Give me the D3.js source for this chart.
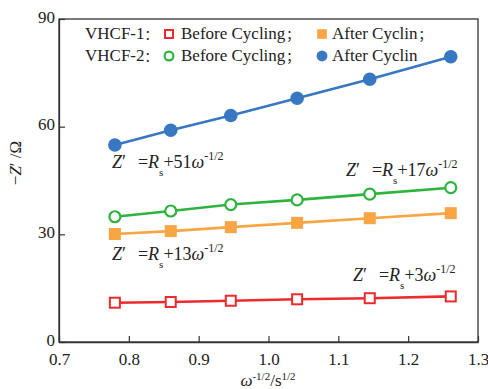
<!DOCTYPE html>
<html>
<head>
<meta charset="utf-8">
<script src="https://cdn.jsdelivr.net/npm/d3@7"></script>
<style>
  html, body { margin: 0; padding: 0; background: #fff; }
</style>
</head>
<body>
<svg id="chart" width="488" height="389" style="font-family: 'Liberation Serif', 'Times New Roman', serif;"></svg>
<script>
// Warburg coefficient plots: real impedance vs ω^-1/2
const omegaInvSqrt = [0.780, 0.860, 0.946, 1.041, 1.145, 1.261];
const vhcf1Before = [10.95, 11.15, 11.5, 11.9, 12.2, 12.7];
const vhcf1After  = [30.1, 30.9, 32.0, 33.2, 34.5, 35.9];
const vhcf2Before = [34.9, 36.5, 38.3, 39.6, 41.2, 43.0];
const vhcf2After  = [54.9, 59.0, 63.1, 67.9, 73.2, 79.5];
const xTicks = [0.7, 0.8, 0.9, 1.0, 1.1, 1.2, 1.3];
const yTicks = [0, 30, 60, 90];
const fitCoefs = ["51", "17", "13", "3"];

const SERIF = "'Liberation Serif', 'Times New Roman', serif";
const CJK = "'Noto Sans CJK SC', sans-serif";

const svg = d3.select("#chart");
const m = { left: 59, right: 478, top: 19, bottom: 342 };
const x = d3.scaleLinear().domain([0.7, 1.3]).range([m.left, m.right]);
const y = d3.scaleLinear().domain([0, 90]).range([m.bottom, m.top]);

const axisColor = "#333";
const textColor = "#222";

function txt(sel) {
  return sel.style("font-family", SERIF).style("fill", textColor);
}

// frame
svg.append("rect")
  .attr("x", m.left).attr("y", m.top)
  .attr("width", m.right - m.left).attr("height", m.bottom - m.top)
  .attr("fill", "none").attr("stroke", axisColor).attr("stroke-width", 1.3);

// axes with inward ticks
const gx = svg.append("g").attr("transform", `translate(0,${m.bottom})`)
  .call(d3.axisBottom(x).tickValues(xTicks).tickFormat(d3.format(".1f")).tickSizeInner(-6).tickSizeOuter(0).tickPadding(11));
const gy = svg.append("g").attr("transform", `translate(${m.left},0)`)
  .call(d3.axisLeft(y).tickValues(yTicks).tickFormat(d3.format("d")).tickSizeInner(-6).tickSizeOuter(0).tickPadding(4));
[gx, gy].forEach(g => {
  g.attr("font-family", null);
  g.select(".domain").attr("stroke", axisColor).attr("stroke-width", 1.3);
  g.selectAll(".tick line").attr("stroke", axisColor).attr("stroke-width", 1.2);
  txt(g.selectAll(".tick text")).style("font-size", "17px");
});
gy.selectAll(".tick text").attr("dy", "0.18em");

const series = [
  { vals: vhcf1Before, color: "#ee2a2c", shape: "square", filled: false },
  { vals: vhcf1After,  color: "#f8a544", shape: "square", filled: true },
  { vals: vhcf2Before, color: "#2fb33f", shape: "circle", filled: false },
  { vals: vhcf2After,  color: "#3877c2", shape: "circle", filled: true }
];

const line = d3.line().x(d => x(d[0])).y(d => y(d[1]));

function drawMarker(g, cx, cy, s, scale) {
  const k = scale || 1;
  if (s.shape === "square") {
    const sz = (s.filled ? 12 : 10) * k;
    g.append("rect").attr("x", cx - sz / 2).attr("y", cy - sz / 2)
      .attr("width", sz).attr("height", sz)
      .attr("fill", s.filled ? s.color : "#fff")
      .attr("stroke", s.color).attr("stroke-width", s.filled ? 0 : 2);
  } else {
    const r = (s.filled ? 6.8 : 5.5) * k;
    g.append("circle").attr("cx", cx).attr("cy", cy).attr("r", r)
      .attr("fill", s.filled ? s.color : "#fff")
      .attr("stroke", s.color).attr("stroke-width", s.filled ? 0 : 2.2);
  }
}

series.forEach(s => {
  const pts = omegaInvSqrt.map((v, i) => [v, s.vals[i]]);
  svg.append("path").datum(pts).attr("d", line)
    .attr("fill", "none").attr("stroke", s.color).attr("stroke-width", 2.6);
  const g = svg.append("g");
  pts.forEach(p => drawMarker(g, x(p[0]), y(p[1]), s));
});

// fit equations
function equation(xp, yp, coef) {
  const t = txt(svg.append("text").attr("x", xp).attr("y", yp)).style("font-size", "18px");
  t.append("tspan").style("font-style", "italic").text("Z");
  t.append("tspan").text("′");
  t.append("tspan").attr("dx", 12).text("=");
  t.append("tspan").style("font-style", "italic").text("R");
  t.append("tspan").style("font-size", "11px").attr("dy", 8).text("s");
  t.append("tspan").attr("dy", -8).text("+" + coef);
  t.append("tspan").style("font-style", "italic").text("ω");
  t.append("tspan").style("font-size", "12px").attr("dy", -8).text("-1/2");
}
equation(112, 168, fitCoefs[0]);
equation(346, 176, fitCoefs[1]);
equation(112, 260, fitCoefs[2]);
equation(353, 281, fitCoefs[3]);

// legend
const legendRows = [
  { label: "VHCF-1", y: 39, items: [[series[0], "Before Cycling"], [series[1], "After Cyclin"]], tail: true },
  { label: "VHCF-2", y: 61, items: [[series[2], "Before Cycling"], [series[3], "After Cyclin"]], tail: false }
];
const lg = svg.append("g");
legendRows.forEach(r => {
  const t0 = txt(lg.append("text").attr("x", 85).attr("y", r.y)).style("font-size", "17px");
  t0.append("tspan").text(r.label);
  t0.append("tspan").style("font-family", CJK).style("font-size", "13px").text("：");
  drawMarker(lg, 169, r.y - 5, r.items[0][0], 0.8);
  const t1 = txt(lg.append("text").attr("x", 181).attr("y", r.y)).style("font-size", "17px");
  t1.append("tspan").text(r.items[0][1]);
  t1.append("tspan").style("font-family", CJK).style("font-size", "13px").attr("dx", 1).text("；");
  drawMarker(lg, 322, r.y - 5, r.items[1][0], 0.8);
  const t2 = txt(lg.append("text").attr("x", 332).attr("y", r.y)).style("font-size", "17px");
  t2.append("tspan").text(r.items[1][1]);
  if (r.tail) t2.append("tspan").style("font-family", CJK).style("font-size", "13px").attr("dx", 1).text("；");
});

// axis titles
const yl = txt(svg.append("text").attr("transform", "translate(21,163) rotate(-90)")
  .attr("text-anchor", "middle")).style("font-size", "17px");
yl.append("tspan").text("−");
yl.append("tspan").style("font-style", "italic").text("Z");
yl.append("tspan").text("′ /Ω");

const xl = txt(svg.append("text").attr("x", 268).attr("y", 386)
  .attr("text-anchor", "middle")).style("font-size", "17px");
xl.append("tspan").style("font-style", "italic").text("ω");
xl.append("tspan").style("font-size", "11px").attr("dy", -6).text("-1/2");
xl.append("tspan").attr("dy", 6).text("/s");
xl.append("tspan").style("font-size", "11px").attr("dy", -6).text("1/2");
</script>
</body>
</html>
